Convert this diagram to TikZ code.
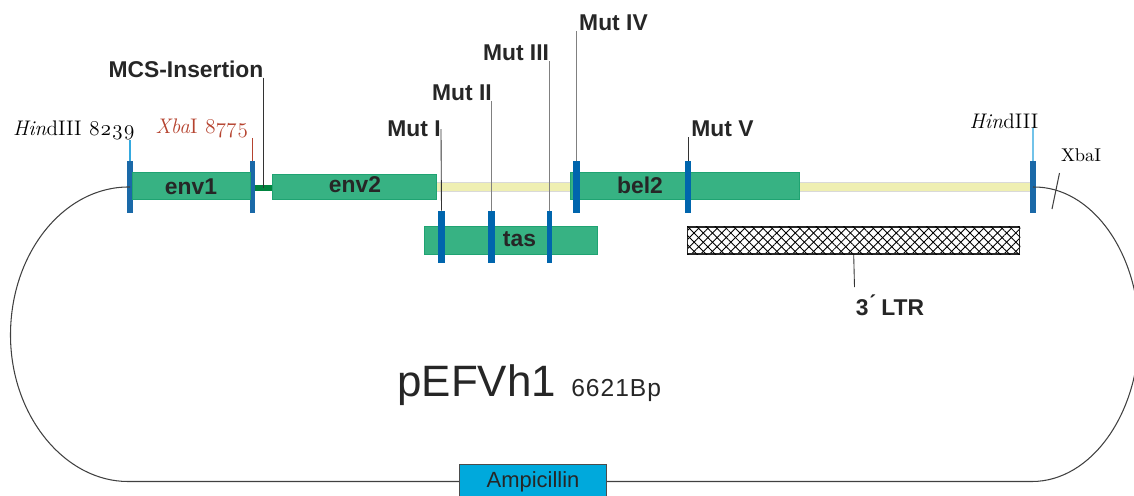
\documentclass[tikz,border=0pt]{standalone}
\usepackage{fontspec}
\usetikzlibrary{patterns.meta}
\newfontfamily\arialfont{Liberation Sans}
\newfontfamily\spacedfont[LetterSpace=4]{Liberation Sans}
\newfontfamily\oldfont[Numbers=OldStyle]{Latin Modern Roman}

\definecolor{genegreen}{HTML}{37B283}
\definecolor{geneedge}{HTML}{1FA372}
\definecolor{linkgreen}{HTML}{00843F}
\definecolor{barblue}{HTML}{1A69A8}
\definecolor{mutblue}{HTML}{0065AD}
\definecolor{ampblue}{HTML}{00A9DC}
\definecolor{backbone}{HTML}{EFEFB2}
\definecolor{xbared}{HTML}{B5432F}
\definecolor{hindblue}{HTML}{35A9DF}

\tikzset{
	genebox/.style={draw=geneedge, fill=genegreen, line width=0.5pt, inner sep=0pt},
	sitebar/.style={fill=barblue, inner sep=0pt, minimum width=1.1mm, minimum height=10.4mm},
	mutbar/.style={fill=mutblue, inner sep=0pt, minimum width=1.4mm, minimum height=10.4mm},
	mutlabel/.style={inner sep=0pt, font=\arialfont\bfseries\fontsize{13}{13}\selectfont, text=black!85},
	sitelabel/.style={inner sep=0pt, font=\oldfont\fontsize{12}{12}\selectfont},
	leader/.style={line width=0.5pt, black!80},
	greyleader/.style={line width=0.8pt, black!50},
	plasmid/.style={line width=0.6pt, black!75},
}

\begin{document}
\begin{tikzpicture}[x=0.02cm, y=-0.02cm]
	\useasboundingbox (0,0) rectangle (1134,495);
	\clip (0,0) rectangle (1134,495);

	% backbone between the genes
	\node[draw=black!15, fill=backbone, inner sep=0pt, minimum width=119.4mm, minimum height=1.8mm] (yellow) at (734,186.5) {};

	% site bars on the ends of the loop
	\node[sitebar] (hindL) at (130,187) {};
	\node[sitebar] (xbaL) at (252.5,187) {};
	\node[sitebar] (hindR) at (1033,187) {};

	% loop
	\coordinate (lowL) at (128,481.5);
	\coordinate (lowR) at (1032,481.5);
	\node[draw=black!70, fill=ampblue, inner sep=0pt, minimum width=29.4mm, minimum height=7mm, text=black!85, font=\arialfont\fontsize{12.5}{12.5}\selectfont] (amp) at (533,481.5) {\raisebox{1.5pt}{Ampicillin}};
	\draw[plasmid] (hindL.center) .. controls (65,186) and (10.5,252) .. (10.5,335) .. controls (10.5,416) and (65,481.5) .. (lowL) -- (amp.west);
	\draw[plasmid] (hindR.center) .. controls (1091,186) and (1139,252) .. (1139,333) .. controls (1139,414) and (1091,481.5) .. (lowR) -- (amp.east);

	% genes
	\node[genebox, minimum width=23.6mm, minimum height=5.5mm] (env1) at (191,186) {};
	\node at (191,187) [mutlabel] {env1};
	\node[fill=linkgreen, inner sep=0pt, minimum width=3.5mm, minimum height=1.1mm] (mcs) at (263.7,188) {};
	\node[genebox, minimum width=32.8mm, minimum height=5.1mm] (env2) at (354.6,186.8) {};
	\node at (355,185) [mutlabel] {env2};
	\node[genebox, minimum width=45.8mm, minimum height=5.5mm] (bel2) at (684.5,186) {};
	\node at (640,185) [mutlabel] {bel2};
	\node[genebox, minimum width=34.5mm, minimum height=5.5mm] (tas) at (510.8,240.3) {};
	\node at (519.5,239) [mutlabel] {tas};

	% 3' LTR
	\node[draw=black!85, line width=0.6pt, minimum width=66.5mm, minimum height=5.4mm, inner sep=0pt, pattern={Lines[angle=45, distance=3.7pt, line width=0.5pt]}] (ltr) at (853.7,240.5) {};
	\fill[pattern={Lines[angle=-45, distance=3.7pt, line width=0.5pt]}] (ltr.south west) rectangle (ltr.north east);
	\node[mutlabel] (ltrtext) at (890,305.5) {3\'{} LTR};
	\coordinate (ltrend) at (854.5,287);
	\draw[leader] (ltr.south) -- (ltrend);

	% mutation bars
	\node[mutbar] (barI) at (441.5,237) {};
	\node[mutbar] (barII) at (491.5,237) {};
	\node[mutbar, minimum width=1mm] (barIII) at (549.5,237) {};
	\node[mutbar] (barIV) at (576.5,187) {};
	\node[mutbar, minimum width=1.2mm] (barV) at (688,187) {};

	% labels
	\node[mutlabel] (mcslabel) at (186,69) {MCS-Insertion};
	\node[mutlabel] (mutI) at (414,129) {Mut I};
	\node[mutlabel] (mutII) at (462,93) {Mut II};
	\node[mutlabel] (mutIII) at (516,53) {Mut III};
	\node[mutlabel] (mutIV) at (613.5,23) {Mut IV};
	\node[mutlabel] (mutV) at (722.5,129) {Mut V};
	\node[sitelabel] (hindtextL) at (74,130) {\textit{Hin}dIII 8239};
	\node[sitelabel, text=xbared] (xbatextL) at (202,128) {\textit{Xba}I 8775};
	\node[sitelabel] (hindtextR) at (1004,121) {\textit{Hin}dIII};
	\node[sitelabel, font=\oldfont\fontsize{10.5}{10.5}\selectfont] (xbatextR) at (1081,155) {XbaI};

	% leaders
	\draw[leader] (mcs.center |- mcslabel.south) -- (mcs.center);
	\draw[leader] (mutI.east) -- (barI.north);
	\draw[greyleader] (barII.north |- mutII.south) -- (barII.north);
	\draw[greyleader] (barIII.north |- mutIII.south) -- (barIII.north);
	\draw[greyleader] (barIV.north |- mutIV.south) -- (barIV.north);
	\draw[leader] (barV.north |- mutV.south) -- (barV.north);
	\draw[line width=0.6pt, hindblue] (hindL.north |- hindtextL.south) -- (hindL.north);
	\draw[line width=0.5pt, xbared] (xbaL.north |- xbatextL.south) -- (xbaL.north);
	\draw[line width=0.6pt, hindblue!70] (hindR.north) -- +(0,-33);

	% XbaI tick
	\coordinate (ticktop) at (1059.5,173);
	\coordinate (tickbot) at (1052,209);
	\draw[plasmid] (ticktop) -- (tickbot);

	% title
	\node[anchor=base west, inner sep=0pt, font=\arialfont\fontsize{25}{25}\selectfont, text=black!85] (title) at (397,396) {pEFVh1};
	\node[anchor=base west, inner sep=0pt, font=\spacedfont\fontsize{14}{14}\selectfont, text=black!85] (size) at (571,396) {6621Bp};
\end{tikzpicture}
\end{document}
